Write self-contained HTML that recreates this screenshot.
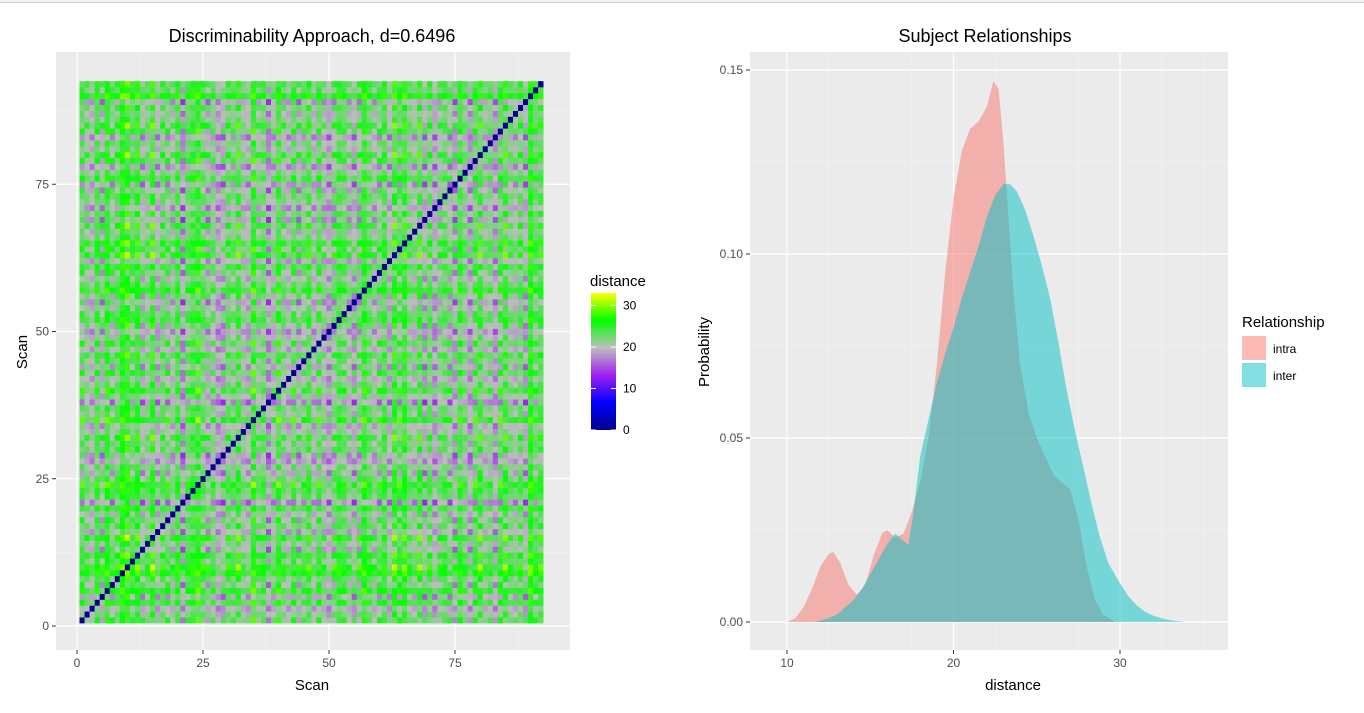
<!DOCTYPE html>
<html><head><meta charset="utf-8"><style>
body{margin:0;background:#fff;font-family:"Liberation Sans",sans-serif;}
svg text{font-family:"Liberation Sans",sans-serif;}
</style></head><body>
<svg id="s" width="1364" height="708" xmlns="http://www.w3.org/2000/svg">
<rect x="0" y="0" width="1364" height="3" fill="#f4f4f4"/>
<line x1="0" y1="2.5" x2="1364" y2="2.5" stroke="#cfcfcf"/>
<g id="left">
<rect x="56" y="52" width="514" height="598" fill="#EBEBEB"/>
<g id="lgrid"></g>
<g id="cells"></g>
<g id="laxes"></g>
<text x="312" y="42" font-size="18" text-anchor="middle" fill="#000">Discriminability Approach, d=0.6496</text>
<text x="312" y="690" font-size="15" text-anchor="middle">Scan</text>
<text transform="translate(27,352) rotate(-90)" font-size="15" text-anchor="middle">Scan</text>
</g>
<g>
<defs><linearGradient id="cg" x1="0" y1="1" x2="0" y2="0">
<stop offset="0" stop-color="#00008B"/><stop offset="0.2" stop-color="#0000FF"/><stop offset="0.4" stop-color="#A020F0"/><stop offset="0.6" stop-color="#BEBEBE"/><stop offset="0.8" stop-color="#00FF00"/><stop offset="1" stop-color="#FFFF00"/></linearGradient></defs>
<text x="590" y="286" font-size="15">distance</text>
<rect x="591" y="293" width="25" height="137" fill="url(#cg)"/>
<g id="cbt"></g>
</g>
<g id="right">
<rect x="750" y="52" width="478" height="598" fill="#EBEBEB"/>
<g id="rgrid"></g>
<g id="dens"></g>
<g id="raxes"></g>
<text x="985" y="42" font-size="18" text-anchor="middle">Subject Relationships</text>
<text x="1013" y="690" font-size="15" text-anchor="middle">distance</text>
<text transform="translate(709,352) rotate(-90)" font-size="15" text-anchor="middle">Probability</text>
<text x="1242" y="327" font-size="15">Relationship</text>
<rect x="1242" y="336" width="24" height="24" fill="#fff"/>
<rect x="1242" y="336" width="24" height="24" fill="rgba(248,118,109,0.5)"/>
<text x="1273" y="353" font-size="12">intra</text>
<rect x="1242" y="363" width="24" height="24" fill="#fff"/>
<rect x="1242" y="363" width="24" height="24" fill="rgba(0,191,196,0.5)"/>
<text x="1273" y="380" font-size="12">inter</text>
</g>
</svg>
<script>
const NS="http://www.w3.org/2000/svg";
const scanEffect=[1,0,-2,2,-1,3,0,1,4,4,1,3,-1,0,3,-2,1,0,-1,2,-3,1,2,3,1,-1,0,-3,-2,1,0,2,-1,-2,3,0,1,-3,-1,2,0,-2,1,-1,0,2,-2,1,-1,-3,0,2,1,-1,-2,0,3,1,-1,0,2,-2,3,1,3,0,-1,2,-2,1,-3,0,1,-1,-2,2,0,-3,1,2,-1,0,-3,1,2,0,-1,1,-2,4,1,2];
const scanInteraction=[2,-1,0,1,-2,1,2,-1,0,-2,1,-1,2,0,-2,1,-1,2,-1,0,-2,1,0,2,-1,-2,1,0,2,-1,1,-2,0,1,2,-1,0,-2,1,2,-1,0,2,-2,1,-1,0,2,-1,1,-2,0,1,-1,2,-2,1,0,-1,2,0,1,-2,2,-1,0,1,-2,2,-1,1,-1,0,2,-2,1,0,-1,2,-2,0,1,-1,2,-2,0,1,-1,2,0,1,-1];
const heatXTicks=[0,25,50,75];
const heatYTicks=[0,25,50,75];
const cbTicks=[0,10,20,30];
const intraX=[10,10.5,11,11.5,12,12.5,12.8,13.2,13.7,14.2,14.7,15.2,15.7,16,16.5,17,17.5,18,18.5,19,19.5,20,20.5,21,21.5,22,22.4,22.7,23,23.3,23.6,24,24.5,25,25.5,26,26.5,27,27.5,28,28.5,29,29.7];
const intraY=[0,0.001,0.004,0.009,0.015,0.0185,0.019,0.016,0.01,0.0074,0.01,0.018,0.024,0.025,0.023,0.024,0.03,0.038,0.05,0.07,0.095,0.115,0.128,0.134,0.136,0.14,0.147,0.145,0.13,0.11,0.09,0.07,0.057,0.05,0.045,0.04,0.038,0.036,0.028,0.015,0.006,0.002,0];
const interX=[11.7,12.5,13,13.5,14,14.5,15,15.5,16,16.5,17,17.3,17.6,18,18.5,19,19.5,20,20.5,21,21.5,22,22.5,23,23.4,23.8,24.3,24.8,25.3,25.8,26.3,26.8,27.3,27.8,28.3,28.8,29.3,30,30.5,31,31.5,32,32.5,33,33.9];
const interY=[0,0.001,0.002,0.004,0.006,0.009,0.013,0.017,0.021,0.024,0.022,0.021,0.03,0.045,0.055,0.065,0.073,0.08,0.088,0.095,0.102,0.11,0.116,0.119,0.119,0.117,0.112,0.105,0.097,0.088,0.076,0.063,0.052,0.042,0.032,0.023,0.016,0.0105,0.007,0.0045,0.0028,0.0017,0.001,0.0005,0];
const densXTicks=[10,20,30];
const densYTicks=[0,0.05,0.10,0.15];

function mk(tag,attrs,parent){const e=document.createElementNS(NS,tag);for(const k in attrs)e.setAttribute(k,attrs[k]);parent.appendChild(e);return e;}
const g=id=>document.getElementById(id);
const hx=v=>77+v*5.04, hy=v=>626-v*5.89;
const cstops=[[0,[0,0,139]],[6.6,[0,0,255]],[13.2,[160,32,240]],[19.8,[190,190,190]],[26.4,[0,255,0]],[33,[255,255,0]]];
function col(v){v=Math.max(0,Math.min(33,v));for(let i=1;i<cstops.length;i++){if(v<=cstops[i][0]){const [a,ca]=cstops[i-1],[b,cb]=cstops[i];const t=(v-a)/(b-a);return 'rgb('+ca.map((c,k)=>Math.round(c+(cb[k]-c)*t)).join(',')+')';}}return 'rgb(255,255,0)';}
for(const t of heatXTicks){const l=mk('line',{x1:hx(t),x2:hx(t),y1:52,y2:650,stroke:'#fff','stroke-width':1.2},g('lgrid'));
}
for(const t of heatYTicks){const l=mk('line',{x1:56,x2:570,y1:hy(t),y2:hy(t),stroke:'#fff','stroke-width':1.2},g('lgrid'));
}
for(const t of heatXTicks.map(v=>v+12.5)){const l=mk('line',{x1:hx(t),x2:hx(t),y1:52,y2:650,stroke:'#f5f5f5','stroke-width':0.6},g('lgrid'));
}
for(const t of heatYTicks.map(v=>v+12.5)){const l=mk('line',{x1:56,x2:570,y1:hy(t),y2:hy(t),stroke:'#f5f5f5','stroke-width':0.6},g('lgrid'));
}
const n=scanEffect.length;
const cw=5.04, ch=5.89;
for(let i=0;i<n;i++)for(let j=0;j<n;j++){
 const v=(i===j)?0:21.6+scanEffect[i]+scanEffect[j]+0.8*scanInteraction[i]*scanInteraction[j];
 const r=mk('rect',{x:(hx(i+0.5)).toFixed(2),y:(hy(j+1.5)).toFixed(2),width:cw+0.3,height:ch+0.3,fill:col(v)},g('cells'));
 
 
}
for(const t of heatXTicks){const l=mk('line',{x1:hx(t),x2:hx(t),y1:650,y2:654,stroke:'#333'},g('laxes'));

const tx=mk('text',{x:hx(t),y:667,'font-size':12,'text-anchor':'middle',fill:'#4d4d4d'},g('laxes'));tx.textContent=t;
}
for(const t of heatYTicks){const l=mk('line',{x1:52,x2:56,y1:hy(t),y2:hy(t),stroke:'#333'},g('laxes'));

const tx=mk('text',{x:49,y:hy(t)+4,'font-size':12,'text-anchor':'end',fill:'#4d4d4d'},g('laxes'));tx.textContent=t;
}
const cby=v=>430-v/33*137;
for(const t of cbTicks){const l=mk('line',{x1:591,x2:596,y1:cby(t),y2:cby(t),stroke:'#fff'},g('cbt'));

const l2=mk('line',{x1:611,x2:616,y1:cby(t),y2:cby(t),stroke:'#fff'},g('cbt'));

const tx=mk('text',{x:623,y:cby(t)+4,'font-size':12,fill:'#000'},g('cbt'));tx.textContent=t;
}
const dx=v=>787+(v-10)*16.65, dy=v=>622-v*3680;
for(const t of [7.5,12.5,17.5,22.5,27.5,32.5,35]){if(dx(t)<750||dx(t)>1228)continue;const l=mk('line',{x1:dx(t),x2:dx(t),y1:52,y2:650,stroke:'#f5f5f5','stroke-width':0.6},g('rgrid'));
}
for(const t of [0.025,0.075,0.125]){const l=mk('line',{x1:750,x2:1228,y1:dy(t),y2:dy(t),stroke:'#f5f5f5','stroke-width':0.6},g('rgrid'));
}
for(const t of densXTicks){const l=mk('line',{x1:dx(t),x2:dx(t),y1:52,y2:650,stroke:'#fff','stroke-width':1.2},g('rgrid'));

const k=mk('line',{x1:dx(t),x2:dx(t),y1:650,y2:654,stroke:'#333'},g('raxes'));

const tx=mk('text',{x:dx(t),y:667,'font-size':12,'text-anchor':'middle',fill:'#4d4d4d'},g('raxes'));tx.textContent=t;
}
for(const t of densYTicks){const l=mk('line',{x1:750,x2:1228,y1:dy(t),y2:dy(t),stroke:'#fff','stroke-width':1.2},g('rgrid'));

const k=mk('line',{x1:746,x2:750,y1:dy(t),y2:dy(t),stroke:'#333'},g('raxes'));

const tx=mk('text',{x:743,y:dy(t)+4,'font-size':12,'text-anchor':'end',fill:'#4d4d4d'},g('raxes'));tx.textContent=t.toFixed(2);
}
function area(xs,ys){let d='M'+dx(xs[0])+','+dy(0);for(let i=0;i<xs.length;i++)d+='L'+dx(xs[i]).toFixed(1)+','+dy(ys[i]).toFixed(1);d+='L'+dx(xs[xs.length-1])+','+dy(0)+'Z';return d;}
const p1=mk('path',{d:area(intraX,intraY),fill:'rgba(248,118,109,0.5)'},g('dens'));


const p2=mk('path',{d:area(interX,interY),fill:'rgba(0,191,196,0.5)'},g('dens'));


</script>
</body></html>
